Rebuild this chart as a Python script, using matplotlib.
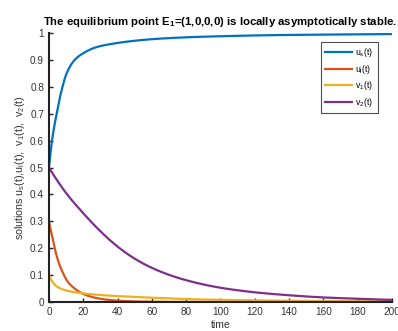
import matplotlib
matplotlib.use("Agg")
import matplotlib.pyplot as plt
import numpy as np

plt.rcParams['font.family'] = ['Liberation Sans', 'DejaVu Sans']
plt.rcParams['mathtext.fontset'] = 'custom'
plt.rcParams['mathtext.rm'] = 'Liberation Sans'
plt.rcParams['mathtext.it'] = 'Liberation Sans'
plt.rcParams['mathtext.bf'] = 'Liberation Sans:bold'

# data
t_us = [0, 1, 2, 3, 4.5, 6, 7.5, 10, 15, 20, 28, 40, 60, 80, 100, 130, 160, 200]
us = [0.5, 0.56, 0.61, 0.65, 0.70, 0.75, 0.79, 0.845, 0.90, 0.925, 0.948, 0.963, 0.977, 0.984, 0.988, 0.992, 0.994, 0.996]

t_ul = [0, 2, 5, 8, 11, 15, 20, 30, 40, 60, 80, 120, 160, 200]
ul = [0.3, 0.24, 0.16, 0.11, 0.075, 0.05, 0.03, 0.012, 0.005, 0.001, 0.0003, 0.00003, 0.000003, 0.0000003]

t_v1 = [0, 2, 5, 10, 20, 30, 40, 60, 80, 100, 120, 150, 200]
v1 = [0.1, 0.075, 0.056, 0.043, 0.032, 0.026, 0.022, 0.016, 0.011, 0.008, 0.006, 0.004, 0.002]

t_v2 = [0, 10, 20, 30, 40, 50, 60, 70, 80, 100, 120, 140, 160, 180, 200]
v2 = [0.5, 0.405, 0.33, 0.263, 0.206, 0.161, 0.127, 0.101, 0.081, 0.053, 0.036, 0.025, 0.017, 0.012, 0.008]

labels = [r'u$_\mathregular{s}$(t)', r'u$_\mathregular{l}$(t)', r'v$_\mathregular{1}$(t)', r'v$_\mathregular{2}$(t)']
colors = ['#0072BD', '#D95319', '#EDB120', '#7E2F8E']
xticks = list(range(0, 201, 20))
yticks = [0, 0.1, 0.2, 0.3, 0.4, 0.5, 0.6, 0.7, 0.8, 0.9, 1]
yticklabels = ['0', '0.1', '0.2', '0.3', '0.4', '0.5', '0.6', '0.7', '0.8', '0.9', '1']


def pchip(x, y, xn):
    x = np.asarray(x, float)
    y = np.asarray(y, float)
    h = np.diff(x)
    d = np.diff(y) / h
    n = len(x)
    m = np.zeros(n)
    for k in range(1, n - 1):
        if d[k - 1] * d[k] > 0:
            w1 = 2 * h[k] + h[k - 1]
            w2 = h[k] + 2 * h[k - 1]
            m[k] = (w1 + w2) / (w1 / d[k - 1] + w2 / d[k])
    m[0] = d[0]
    m[-1] = d[-1]
    idx = np.clip(np.searchsorted(x, xn) - 1, 0, n - 2)
    hh = h[idx]
    s = (xn - x[idx]) / hh
    h00 = 2 * s**3 - 3 * s**2 + 1
    h10 = s**3 - 2 * s**2 + s
    h01 = -2 * s**3 + 3 * s**2
    h11 = s**3 - s**2
    return h00 * y[idx] + h10 * hh * m[idx] + h01 * y[idx + 1] + h11 * hh * m[idx + 1]


def log_curve(tx, ty, xn, upper=False):
    ty = np.asarray(ty, float)
    if upper:
        return 1 - np.exp(pchip(tx, np.log(1 - ty), xn))
    return np.exp(pchip(tx, np.log(ty), xn))


fig = plt.figure(figsize=(3.98, 3.31), dpi=100)
ax = fig.add_axes([0.123, 0.0876, 0.862, 0.8127])

series = [(t_us, us, True), (t_ul, ul, False), (t_v1, v1, False), (t_v2, v2, False)]
for (tx, ty, up), lab, c in zip(series, labels, colors):
    xx = np.linspace(tx[0], tx[-1], 2000)
    ax.plot(xx, log_curve(tx, ty, xx, up), color=c, lw=1.6, label=lab)

ax.set_xlim(0, 200)
ax.set_ylim(0, 1)
ax.set_xticks(xticks)
ax.set_yticks(yticks)
ax.set_yticklabels(yticklabels)
for s in ['top', 'right']:
    ax.spines[s].set_visible(False)
for s in ['left', 'bottom']:
    ax.spines[s].set_linewidth(1.5)
    ax.spines[s].set_color('#222222')
ax.tick_params(direction='in', length=3, width=1, labelsize=7.2, colors='#222222', labelcolor='#333333')

ax.set_xlabel('time', fontsize=7.5, color='#333333', labelpad=2)
ax.set_ylabel(r'solutions u$_\mathregular{s}$(t),u$_\mathregular{l}$(t),  v$_\mathregular{1}$(t),  v$_\mathregular{2}$(t)',
              fontsize=7.7, color='#333333', labelpad=2)
ax.set_title(r'The equilibrium point E$_\mathbf{1}$=(1,0,0,0) is locally asymptotically stable.',
             fontsize=8.2, fontweight='bold', pad=6, x=0.5)

leg = ax.legend(loc='upper right', bbox_to_anchor=(0.958, 0.968), borderaxespad=0,
                fontsize=6.3, frameon=True, fancybox=False, handlelength=3.0,
                labelspacing=0.42, handletextpad=0.4, borderpad=0.5)
leg.get_frame().set_edgecolor('#222222')
leg.get_frame().set_linewidth(0.8)

fig.savefig('out.png', dpi=100)
